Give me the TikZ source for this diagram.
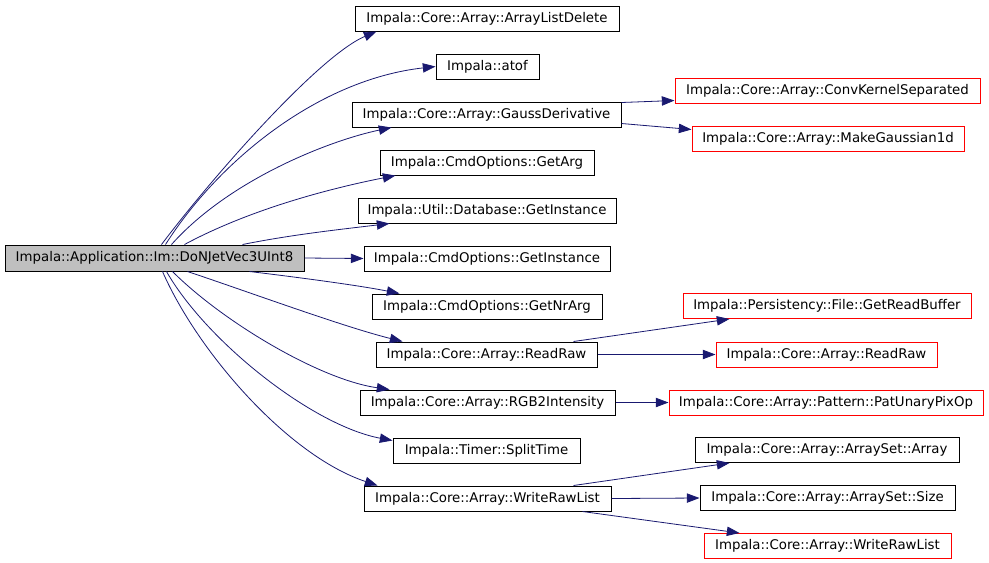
\documentclass[tikz,border=0pt]{standalone}
\usepackage{fontspec}
\setmainfont{DejaVu Sans}
\usetikzlibrary{arrows.meta,calc}
\definecolor{edgeblue}{HTML}{191970}
\definecolor{rootgray}{HTML}{BFBFBF}
\begin{document}
\begin{tikzpicture}[x=0.75pt,y=-0.75pt,
  box/.style={draw=black,line width=0.75pt,inner sep=0pt,minimum height=18.75pt,font=\fontsize{10pt}{12pt}\selectfont},
  redbox/.style={box,draw=red},
  rootbox/.style={box,fill=rootgray,minimum height=19.5pt},
  edge/.style={draw=edgeblue,line width=0.6pt,-{Triangle[length=9.5pt,width=7pt]}}]
\useasboundingbox (0,0) rectangle (989,562);
% root
\node[rootbox,minimum width=224.25pt] (root) at (154.5,258) {Impala::Application::Im::DoNJetVec3UInt8};
% middle column
\node[box,minimum width=198pt] (ald) at (487,18.5) {Impala::Core::Array::ArrayListDelete};
\node[box,minimum width=77.25pt] (atof) at (487.5,66.5) {Impala::atof};
\node[box,minimum width=201.75pt] (gauss) at (486.5,114.5) {Impala::Core::Array::GaussDerivative};
\node[box,minimum width=160.5pt] (getarg) at (487,162.5) {Impala::CmdOptions::GetArg};
\node[box,minimum width=193.5pt] (db) at (487,210.5) {Impala::Util::Database::GetInstance};
\node[box,minimum width=184.5pt] (cmdgi) at (487,258.5) {Impala::CmdOptions::GetInstance};
\node[box,minimum width=172.5pt] (nrarg) at (487,306.5) {Impala::CmdOptions::GetNrArg};
\node[box,minimum width=165.75pt] (readraw) at (486.5,354.5) {Impala::Core::Array::ReadRaw};
\node[box,minimum width=191.25pt] (rgb) at (487.5,402.5) {Impala::Core::Array::RGB2Intensity};
\node[box,minimum width=140.25pt] (split) at (486.5,450.5) {Impala::Timer::SplitTime};
\node[box,minimum width=185.25pt] (wrl) at (487.5,498.5) {Impala::Core::Array::WriteRawList};
% right column
\node[redbox,minimum width=228.75pt] (conv) at (827.5,90.5) {Impala::Core::Array::ConvKernelSeparated};
\node[redbox,minimum width=204pt] (makeg) at (828,138.5) {Impala::Core::Array::MakeGaussian1d};
\node[redbox,minimum width=216pt] (grb) at (827,306) {Impala::Persistency::File::GetReadBuffer};
\node[redbox,minimum width=165.75pt] (readraw2) at (826.5,354.5) {Impala::Core::Array::ReadRaw};
\node[redbox,minimum width=235.5pt] (pat) at (826,402.5) {Impala::Core::Array::Pattern::PatUnaryPixOp};
\node[box,minimum width=198pt] (asarr) at (827,450) {Impala::Core::Array::ArraySet::Array};
\node[box,minimum width=191.25pt] (assize) at (827.5,498) {Impala::Core::Array::ArraySet::Size};
\node[redbox,minimum width=185.25pt] (wrl2) at (827.5,546) {Impala::Core::Array::WriteRawList};
% root edges (upward)
\draw[edge] ($(root.north west)+(157,0)$) .. controls +(53,-70) and +(-57,24) .. ($(ald.south west)+(22,0)$);
\draw[edge] ($(root.north west)+(161,0)$) .. controls +(54,-85) and +(-116,13) .. (atof.west);
\draw[edge] ($(root.north west)+(167,0)$) .. controls +(58,-65) and +(-62,13) .. ($(gauss.south west)+(40,0)$);
\draw[edge] ($(root.north west)+(180,0)$) .. controls +(65,-35) and +(-66,13) .. ($(getarg.south west)+(16,0)$);
\draw[edge] ($(root.north west)+(238,0)$) .. controls +(50,-10) and +(-50,6) .. ($(db.south west)+(32,0)$);
\draw[edge] (root.east) -- (cmdgi.west);
% root edges (downward)
\draw[edge] ($(root.south west)+(245,0)$) .. controls +(50,6) and +(-40,-8) .. ($(nrarg.north west)+(28,0)$);
\draw[edge] ($(root.south west)+(183,0)$) .. controls +(60,20) and +(-60,-15) .. ($(readraw.north west)+(27,0)$);
\draw[edge] ($(root.south west)+(168,0)$) .. controls +(50,50) and +(-70,-10) .. ($(rgb.north west)+(30,0)$);
\draw[edge] ($(root.south west)+(162,0)$) .. controls +(40,70) and +(-80,-15) .. ($(split.north west)+(0,3)$);
\draw[edge] ($(root.south west)+(158,0)$) .. controls +(35,80) and +(-90,-30) .. ($(wrl.north west)+(14,0)$);
% second level edges
\draw[edge] ($(gauss.north east)+(0,1)$) -- ($(conv.south west)+(0,-3)$);
\draw[edge] ($(gauss.south east)+(0,-4)$) -- ($(makeg.north west)+(0,4)$);
\draw[edge] ($(readraw.north east)+(-24,0)$) -- ($(grb.south west)+(47,0)$);
\draw[edge] (readraw.east) -- (readraw2.west);
\draw[edge] (rgb.east) -- (pat.west);
\draw[edge] ($(wrl.north east)+(-38,0)$) -- ($(asarr.south west)+(35,0)$);
\draw[edge] (wrl.east) -- (assize.west);
\draw[edge] ($(wrl.south east)+(-29,0)$) -- ($(wrl2.north west)+(36,0)$);
\end{tikzpicture}
\end{document}
